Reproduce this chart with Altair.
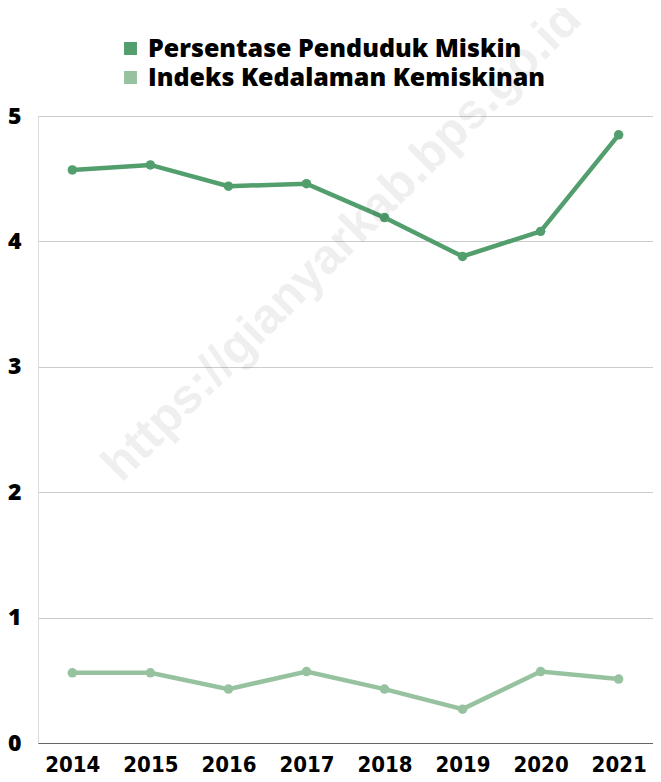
import altair as alt
import pandas as pd

years = ["2014", "2015", "2016", "2017", "2018", "2019", "2020", "2021"]
persentase = [4.57, 4.61, 4.44, 4.46, 4.19, 3.88, 4.08, 4.85]
kedalaman = [0.56, 0.56, 0.43, 0.57, 0.43, 0.27, 0.57, 0.51]
series = ["Persentase Penduduk Miskin", "Indeks Kedalaman Kemiskinan"]
colors = ["#529e6d", "#97c2a0"]

rows = []
for y, v in zip(years, persentase):
    rows.append({"Tahun": y, "Seri": series[0], "Nilai": v})
for y, v in zip(years, kedalaman):
    rows.append({"Tahun": y, "Seri": series[1], "Nilai": v})
df = pd.DataFrame(rows)

base = alt.Chart(df)

lines = base.mark_line(strokeWidth=4.5, point=alt.OverlayMarkDef(size=90, filled=True, opacity=1)).encode(
    x=alt.X("Tahun:O", title=None, sort=years,
            scale=alt.Scale(type="point", padding=0.44),
            axis=alt.Axis(labelAngle=0, labelFont="DejaVu Sans Condensed", labelFontSize=22,
                          labelFontWeight="bold", labelColor="#000000", ticks=False,
                          domainColor="#666666", domainWidth=1.2, labelPadding=11)),
    y=alt.Y("Nilai:Q", title=None, scale=alt.Scale(domain=[0, 5], nice=False),
            axis=alt.Axis(values=[0, 1, 2, 3, 4, 5], labelFont="Open Sans", labelFontSize=23,
                          labelFontWeight=800, labelColor="#000000", ticks=False, domain=False,
                          gridColor="#cccccc", labelPadding=17)),
    color=alt.Color("Seri:N", sort=series, scale=alt.Scale(domain=series, range=colors),
                    legend=alt.Legend(title=None, orient="none", legendX=80, legendY=-80,
                                      direction="vertical", symbolType="square", symbolSize=130,
                                      labelFont="Open Sans", labelFontSize=25, labelFontWeight=800,
                                      labelColor="#000000", rowPadding=3, labelOffset=5, labelLimit=0)),
)

watermark = alt.Chart(pd.DataFrame({"t": ["https://gianyarkab.bps.go.id"]})).mark_text(
    angle=315, fontSize=49, font="Liberation Sans", fontWeight="bold", color="#000000",
    opacity=0.06, align="center", baseline="middle"
).encode(text="t:N", x=alt.value(304), y=alt.value(126))

chart = alt.layer(lines, watermark).properties(
    width=615, height=627,
    autosize=alt.AutoSizeParams(type="none"),
    padding={"left": 30, "top": 108, "right": 0, "bottom": 36}
).configure_view(stroke=None).configure(background="white")

chart.save("out.html", embed_options={"renderer": "svg", "actions": False})
